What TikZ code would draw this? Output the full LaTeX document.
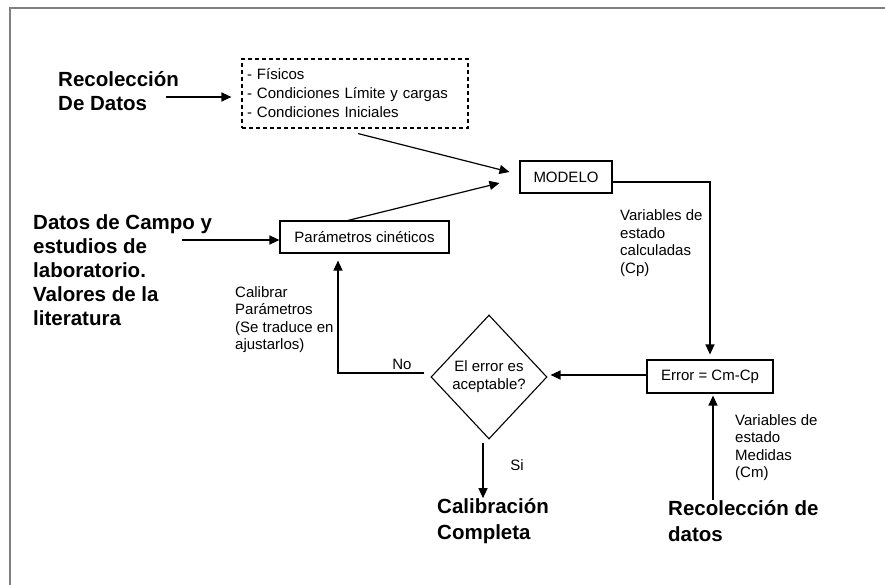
\documentclass[tikz,border=0pt]{standalone}
\usepackage{fontspec}
\setmainfont{Liberation Sans}
\usetikzlibrary{shapes.geometric,arrows.meta,calc}
\tikzset{
  txt/.style={font=\fontsize{15}{17.5}\selectfont, inner sep=0pt, align=left, text=black},
  big/.style={font=\fontsize{20.5}{24}\selectfont\bfseries, inner sep=0pt, align=left, text=black},
  boxn/.style={draw, line width=1.1pt, font=\fontsize{15}{17.5}\selectfont, inner sep=0pt},
  arr/.style={line width=1.2pt, -{Triangle[length=10pt,width=9pt]}},
  ln/.style={line width=1.2pt}
}
\begin{document}
\begin{tikzpicture}[x=1pt,y=-1pt]
\useasboundingbox (0,0) rectangle (885,585);
\fill[white] (0,0) rectangle (885,585);
\draw[line width=2.5pt, black!50] (10,586) -- (10,8) -- (886,8);

% nodes
\node[big, anchor=west] (rec) at (58,91.5) {Recolección\\De Datos};
\node[draw, line width=1.1pt, dash pattern=on 4pt off 3pt, minimum width=226pt, minimum height=69pt,
      text width=216pt, align=left, inner sep=0pt, font=\fontsize{15}{19}\selectfont] (dash) at (355,93.5)
      {- Físicos\\- Condiciones Límite y cargas\\- Condiciones Iniciales};
\node[boxn, minimum width=92pt, minimum height=32pt] (modelo) at (566,177) {MODELO};
\node[boxn, minimum width=169pt, minimum height=32pt] (param) at (364.5,237) {Parámetros cinéticos};
\node[big, anchor=west] (datos) at (33,270) {Datos de Campo y\\estudios de\\laboratorio.\\Valores de la\\literatura};
\node[txt, anchor=west] (calib) at (235,319.5) {Calibrar\\Parámetros\\(Se traduce en\\ajustarlos)};
\node[txt, anchor=west] (varcp) at (620,243) {Variables de\\estado\\calculadas\\(Cp)};
\node[boxn, minimum width=126pt, minimum height=33pt] (err) at (710,376.5) {Error = Cm-Cp};
\node[draw, diamond, line width=1.1pt, inner sep=0pt, minimum width=116pt, minimum height=124pt,
      align=center, font=\fontsize{15}{18}\selectfont] (dia) at (489,377) {El error es\\aceptable?};
\node[txt] (no) at (402,364) {No};
\node[txt] (si) at (517,465) {Si};
\node[txt, anchor=west] (varcm) at (735,447.5) {Variables de\\estado\\Medidas\\(Cm)};
\node[big, anchor=west, font=\fontsize{20.5}{26}\selectfont\bfseries] (calcomp) at (437,521) {Calibración\\Completa};
\node[big, anchor=west, font=\fontsize{20.5}{26}\selectfont\bfseries] (recdat) at (668,521) {Recolección de\\datos};

% connectors
\draw[arr] ([shift={(-13,5.5)}]rec.east) -- ([shift={(-10,3.5)}]dash.west);
\draw[arr] ([shift={(3,5)}]dash.south) -- ([shift={(-10,-5)}]modelo.west);
\draw[arr] ([shift={(-16.5,0)}]param.north) -- ([shift={(-20,6)}]modelo.west);
\draw[arr] ([shift={(-30,3)}]param.west -| datos.east) -- ([shift={(0,3)}]param.west);
\draw[arr] ([shift={(0,5)}]modelo.east) -| ([shift={(0,-5)}]err.north);
\draw[arr] ([shift={(0,-1.5)}]err.west) -- ([shift={(3,-1.5)}]err.west -| dia.east);
\draw[arr] ([shift={(-6,-4)}]dia.west) -| ([shift={(-26.5,7)}]param.south);
\draw[arr] ([shift={(-6,3)}]dia.south) -- ([xshift=-6]dia.south |- calcomp.north);
\draw[arr] ([xshift=3]err.south |- recdat.north) -- ([shift={(3,2)}]err.south);
\end{tikzpicture}
\end{document}
